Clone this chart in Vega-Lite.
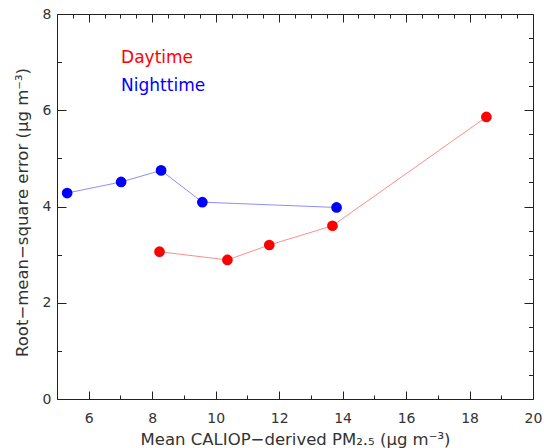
{
  "$schema": "https://vega.github.io/schema/vega-lite/v6.json",
  "width": 476,
  "height": 385,
  "autosize": {"type": "none"},
  "padding": {"left": 57, "top": 14, "right": 11, "bottom": 49},
  "config": {
    "view": {"stroke": "#222", "strokeWidth": 1},
    "axis": {
      "grid": false,
      "domain": false,
      "tickColor": "#222",
      "tickWidth": 1,
      "labelFont": "DejaVu Sans",
      "labelFontSize": 14,
      "labelColor": "#333",
      "titleFont": "DejaVu Sans",
      "titleFontSize": 16.5,
      "titleFontWeight": "normal",
      "titleColor": "#333",
      "labelFlush": false,
      "labelOverlap": false
    }
  },
  "datasets": {
    "pts": [
      {"series": "Nighttime", "x": 5.32, "y": 4.28},
      {"series": "Nighttime", "x": 7.02, "y": 4.51},
      {"series": "Nighttime", "x": 8.28, "y": 4.75},
      {"series": "Nighttime", "x": 9.58, "y": 4.09},
      {"series": "Nighttime", "x": 13.81, "y": 3.98},
      {"series": "Daytime", "x": 8.23, "y": 3.06},
      {"series": "Daytime", "x": 10.37, "y": 2.89},
      {"series": "Daytime", "x": 11.69, "y": 3.20},
      {"series": "Daytime", "x": 13.68, "y": 3.60},
      {"series": "Daytime", "x": 18.53, "y": 5.86}
    ],
    "labels": [
      {"series": "Daytime", "x": 7.02, "y": 7.08},
      {"series": "Nighttime", "x": 7.02, "y": 6.5}
    ]
  },
  "layer": [
    {
      "data": {"name": "pts"},
      "mark": {"type": "line", "strokeWidth": 1, "strokeOpacity": 0.45},
      "encoding": {
        "x": {
          "field": "x", "type": "quantitative",
          "scale": {"domain": [5, 20], "nice": false, "zero": false},
          "axis": {
            "orient": "bottom",
            "values": [5, 5.5, 6, 6.5, 7, 7.5, 8, 8.5, 9, 9.5, 10, 10.5, 11, 11.5, 12, 12.5, 13, 13.5, 14, 14.5, 15, 15.5, 16, 16.5, 17, 17.5, 18, 18.5, 19, 19.5, 20],
            "format": "d",
            "labelExpr": "datum.value % 2 === 0 ? datum.label : ''",
            "tickSize": {"condition": {"test": "datum.value % 2 === 0", "value": -8}, "value": -4},
            "labelPadding": 20,
            "title": "Mean CALIOP−derived PM₂.₅ (μg m⁻³)",
            "titleX": 238,
            "titleY": 45,
            "titleAnchor": "middle",
            "titleAlign": "center",
            "titleBaseline": "alphabetic"
          }
        },
        "y": {
          "field": "y", "type": "quantitative",
          "scale": {"domain": [0, 8], "nice": false},
          "axis": {
            "orient": "left",
            "values": [0, 0.5, 1, 1.5, 2, 2.5, 3, 3.5, 4, 4.5, 5, 5.5, 6, 6.5, 7, 7.5, 8],
            "format": "d",
            "labelExpr": "datum.value % 2 === 0 ? datum.label : ''",
            "tickSize": {"condition": {"test": "datum.value % 2 === 0", "value": -9}, "value": -4.5},
            "labelPadding": 15,
            "title": "Root−mean−square error (μg m⁻³)",
            "titleX": -30,
            "titleY": 198,
            "titleAngle": -90,
            "titleAlign": "center",
            "titleBaseline": "alphabetic"
          }
        },
        "color": {
          "field": "series", "type": "nominal",
          "scale": {"domain": ["Daytime", "Nighttime"], "range": ["#ff0000", "#0000ff"]},
          "legend": null
        }
      }
    },
    {
      "data": {"name": "pts"},
      "mark": {"type": "point", "filled": true, "opacity": 1, "size": 115},
      "encoding": {
        "x": {
          "field": "x", "type": "quantitative",
          "axis": {
            "orient": "top",
            "values": [5, 5.5, 6, 6.5, 7, 7.5, 8, 8.5, 9, 9.5, 10, 10.5, 11, 11.5, 12, 12.5, 13, 13.5, 14, 14.5, 15, 15.5, 16, 16.5, 17, 17.5, 18, 18.5, 19, 19.5, 20],
            "labels": false,
            "tickSize": {"condition": {"test": "datum.value % 2 === 0", "value": -8}, "value": -4},
            "title": null
          }
        },
        "y": {
          "field": "y", "type": "quantitative",
          "axis": {
            "orient": "right",
            "values": [0, 0.5, 1, 1.5, 2, 2.5, 3, 3.5, 4, 4.5, 5, 5.5, 6, 6.5, 7, 7.5, 8],
            "labels": false,
            "tickSize": {"condition": {"test": "datum.value % 2 === 0", "value": -9}, "value": -4.5},
            "title": null
          }
        },
        "color": {"field": "series", "type": "nominal", "legend": null}
      }
    },
    {
      "data": {"name": "labels"},
      "mark": {"type": "text", "align": "left", "baseline": "middle", "font": "DejaVu Sans", "fontSize": 17},
      "encoding": {
        "x": {"field": "x", "type": "quantitative", "axis": null},
        "y": {"field": "y", "type": "quantitative", "axis": null},
        "text": {"field": "series"},
        "color": {"field": "series", "type": "nominal", "legend": null}
      }
    }
  ],
  "resolve": {"axis": {"x": "independent", "y": "independent"}}
}
